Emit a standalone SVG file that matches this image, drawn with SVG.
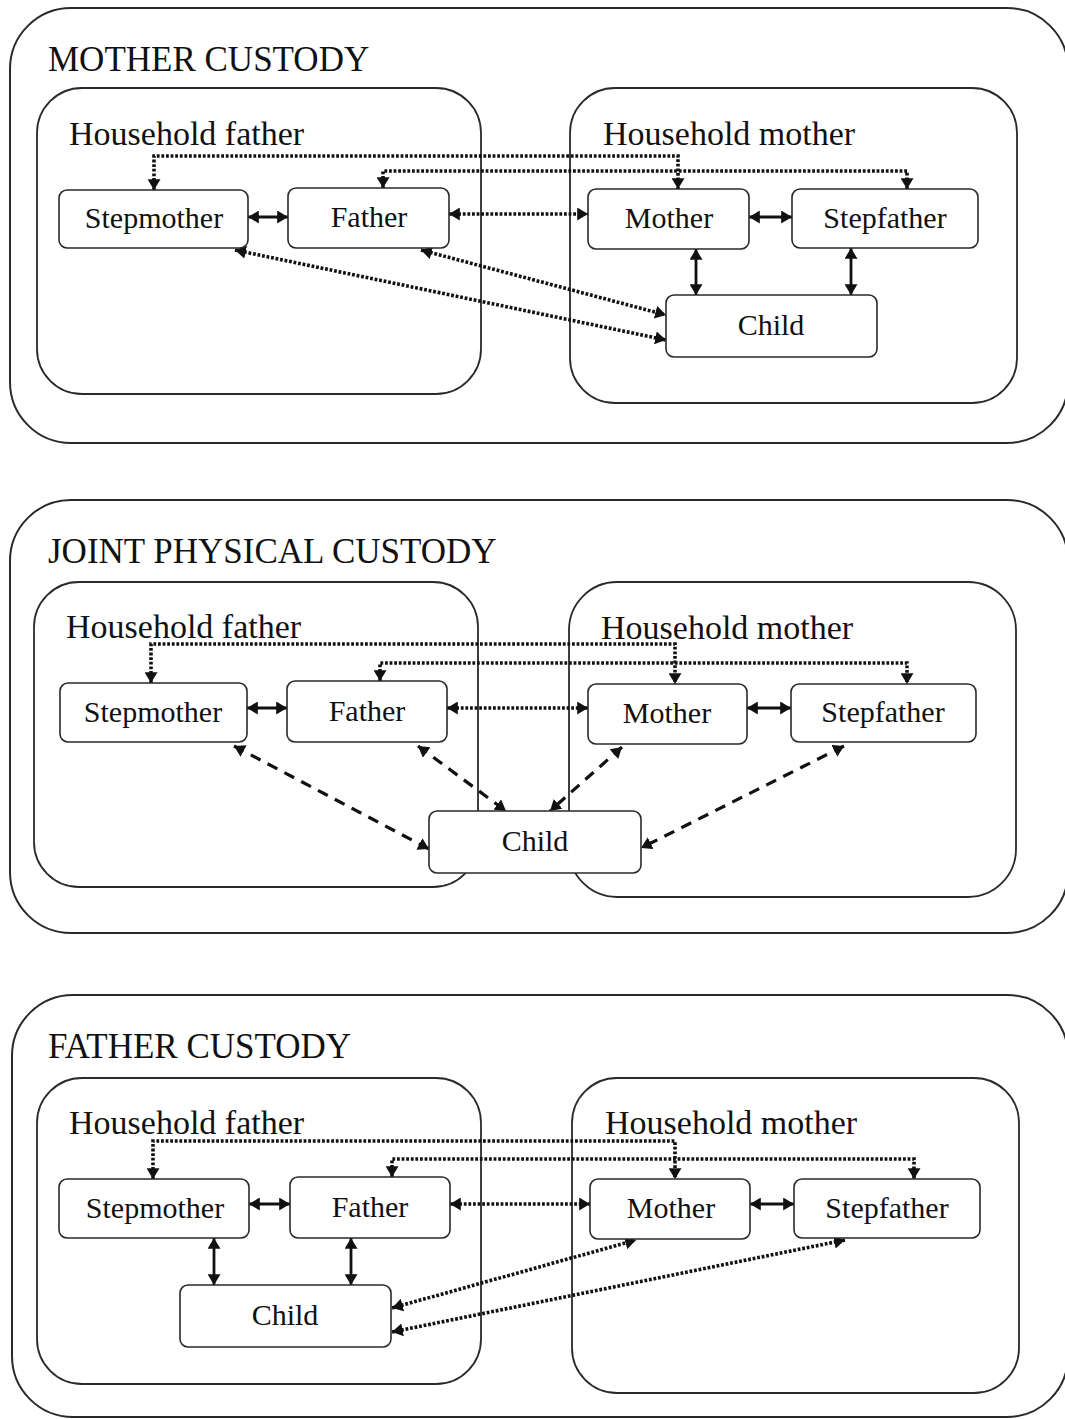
<svg xmlns="http://www.w3.org/2000/svg" width="1065" height="1419" viewBox="0 0 1065 1419">
<style>
.frame{fill:none;stroke:#2a2a2a;stroke-width:2}
.house{fill:none;stroke:#2a2a2a;stroke-width:1.8}
.node rect{fill:#fff;stroke:#2a2a2a;stroke-width:1.6}
.title,.hlabel,.node text{font-family:"Liberation Serif","Times New Roman",serif;fill:#111}
.title{font-size:35px}
.hlabel{font-size:34px}
.node text{font-size:30px;text-anchor:middle}
.solid{fill:none;stroke:#111;stroke-width:2.8;marker-start:url(#ah);marker-end:url(#ah)}
.dot{fill:none;stroke:#111;stroke-width:3.6;stroke-dasharray:2.8 1.8;marker-start:url(#ah);marker-end:url(#ah)}
.dash{fill:none;stroke:#111;stroke-width:3.2;stroke-dasharray:11 8;marker-start:url(#ah);marker-end:url(#ah)}
</style>
<defs>
<marker id="ah" viewBox="0 0 10 12" refX="10" refY="6" markerWidth="11" markerHeight="13" markerUnits="userSpaceOnUse" orient="auto-start-reverse">
<path d="M0,0 L10,6 L0,12 z" fill="#111"/>
</marker>
</defs>

<g id="panel-mother-custody">
<rect class="frame" x="10" y="8" width="1058" height="435" rx="61"/>
<text class="title" x="48" y="71">MOTHER CUSTODY</text>
<g id="mc-household-father"><rect class="house" x="37" y="88" width="444" height="306" rx="45"/><text class="hlabel" x="69" y="145">Household father</text></g>
<g id="mc-household-mother"><rect class="house" x="570" y="88" width="447" height="315" rx="45"/><text class="hlabel" x="603" y="145">Household mother</text></g>
</g>

<g id="panel-joint-custody">
<rect class="frame" x="10" y="500" width="1058" height="433" rx="61"/>
<text class="title" x="48" y="563">JOINT PHYSICAL CUSTODY</text>
<g id="jc-household-father"><rect class="house" x="34" y="582" width="444" height="305" rx="45"/><text class="hlabel" x="66" y="638">Household father</text></g>
<g id="jc-household-mother"><rect class="house" x="569" y="582" width="447" height="315" rx="48"/><text class="hlabel" x="601" y="639">Household mother</text></g>
</g>

<g id="panel-father-custody">
<rect class="frame" x="12" y="995" width="1056" height="422" rx="61"/>
<text class="title" x="48" y="1058">FATHER CUSTODY</text>
<g id="fc-household-father"><rect class="house" x="37" y="1078" width="444" height="306" rx="45"/><text class="hlabel" x="69" y="1134">Household father</text></g>
<g id="fc-household-mother"><rect class="house" x="572" y="1078" width="447" height="315" rx="45"/><text class="hlabel" x="605" y="1134">Household mother</text></g>
</g>

<g id="connectors">
<!-- mother custody -->
<path class="dot" d="M154,190 V156 H678 V189"/>
<path class="dot" d="M383,188 V171 H907 V189"/>
<path class="solid" d="M248,217 H288"/>
<path class="dot" d="M449,214 H588"/>
<path class="solid" d="M749,217 H792"/>
<path class="solid" d="M696,249 V295"/>
<path class="solid" d="M851,248 V295"/>
<path class="dot" d="M235,250 L666,340"/>
<path class="dot" d="M421,250 L666,315"/>
<!-- joint custody -->
<path class="dot" d="M151,683 V644 H675 V684"/>
<path class="dot" d="M380,681 V663 H907 V684"/>
<path class="solid" d="M247,708 H287"/>
<path class="dot" d="M447,708 H588"/>
<path class="solid" d="M747,708 H791"/>
<path class="dash" d="M234,746 L429,849"/>
<path class="dash" d="M418,746 L506,811"/>
<path class="dash" d="M622,747 L550,811"/>
<path class="dash" d="M844,746 L641,848"/>
<!-- father custody -->
<path class="dot" d="M153,1179 V1141 H675 V1179"/>
<path class="dot" d="M392,1177 V1159 H914 V1179"/>
<path class="solid" d="M249,1204 H290"/>
<path class="dot" d="M450,1204 H590"/>
<path class="solid" d="M750,1204 H794"/>
<path class="solid" d="M214,1238 V1285"/>
<path class="solid" d="M351,1238 V1285"/>
<path class="dot" d="M392,1308 L636,1240"/>
<path class="dot" d="M392,1332 L845,1240"/>
</g>

<g id="mc-stepmother" class="node"><rect x="59" y="190" width="189" height="58" rx="8"/><text x="154" y="228">Stepmother</text></g>
<g id="mc-father" class="node"><rect x="288" y="188" width="161" height="60" rx="8"/><text x="369" y="227">Father</text></g>
<g id="mc-mother" class="node"><rect x="588" y="189" width="161" height="60" rx="8"/><text x="669" y="228">Mother</text></g>
<g id="mc-stepfather" class="node"><rect x="792" y="189" width="186" height="59" rx="8"/><text x="885" y="228">Stepfather</text></g>
<g id="mc-child" class="node"><rect x="666" y="295" width="211" height="62" rx="8"/><text x="771" y="335">Child</text></g>

<g id="jc-stepmother" class="node"><rect x="60" y="683" width="187" height="59" rx="8"/><text x="153" y="722">Stepmother</text></g>
<g id="jc-father" class="node"><rect x="287" y="681" width="160" height="61" rx="8"/><text x="367" y="721">Father</text></g>
<g id="jc-mother" class="node"><rect x="588" y="684" width="159" height="60" rx="8"/><text x="667" y="723">Mother</text></g>
<g id="jc-stepfather" class="node"><rect x="791" y="684" width="185" height="58" rx="8"/><text x="883" y="722">Stepfather</text></g>
<g id="jc-child" class="node"><rect x="429" y="811" width="212" height="62" rx="8"/><text x="535" y="851">Child</text></g>

<g id="fc-stepmother" class="node"><rect x="59" y="1179" width="190" height="59" rx="8"/><text x="155" y="1218">Stepmother</text></g>
<g id="fc-father" class="node"><rect x="290" y="1177" width="160" height="61" rx="8"/><text x="370" y="1217">Father</text></g>
<g id="fc-mother" class="node"><rect x="590" y="1179" width="160" height="60" rx="8"/><text x="671" y="1218">Mother</text></g>
<g id="fc-stepfather" class="node"><rect x="794" y="1179" width="186" height="59" rx="8"/><text x="887" y="1218">Stepfather</text></g>
<g id="fc-child" class="node"><rect x="180" y="1285" width="211" height="62" rx="8"/><text x="285" y="1325">Child</text></g>
</svg>
